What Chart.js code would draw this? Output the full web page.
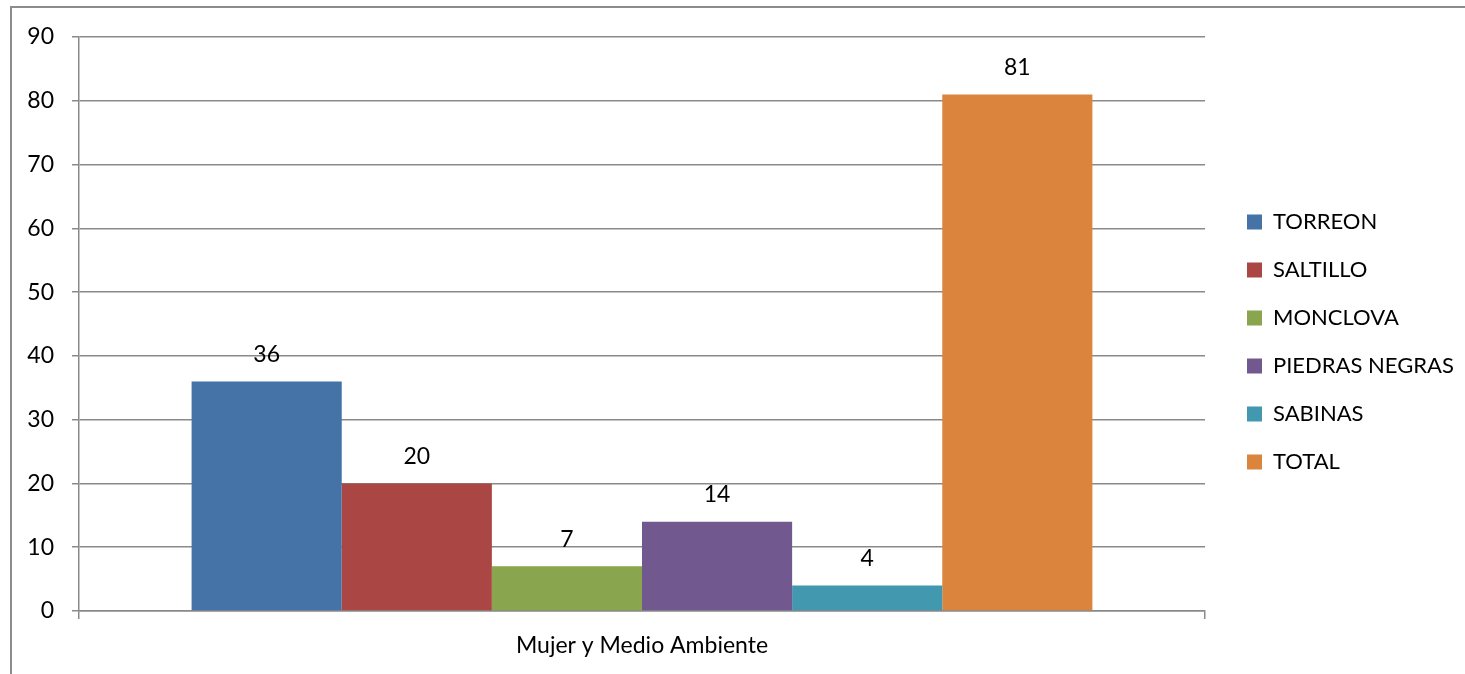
<!DOCTYPE html>
<html>
<head>
<meta charset="utf-8">
<script src="https://cdn.jsdelivr.net/npm/chart.js@4.4.1/dist/chart.umd.min.js"></script>
<style>
  html, body { margin: 0; padding: 0; background: #fff; }
  #wrap { position: relative; width: 1465px; height: 674px; overflow: hidden; }
  #frame { position: absolute; left: 10px; top: 6px; width: 1500px; height: 700px;
           border-left: 2px solid #8c8c8c; border-top: 2px solid #8c8c8c; }
  canvas { position: absolute; left: 0; top: 0; }
</style>
</head>
<body>
<div id="wrap">
  <div id="frame"></div>
  <canvas id="chart" width="1465" height="674"></canvas>
</div>
<script>
const categories = ['Mujer y Medio Ambiente'];
const seriesNames = ['TORREON', 'SALTILLO', 'MONCLOVA', 'PIEDRAS NEGRAS', 'SABINAS', 'TOTAL'];
const seriesValues = [36, 20, 7, 14, 4, 81];
const seriesColors = ['#4572A7', '#AA4643', '#89A54E', '#71588F', '#4198AF', '#DB843D'];
const yTicks = [0, 10, 20, 30, 40, 50, 60, 70, 80, 90];

const FONT = 'Lato, "Open Sans", sans-serif';
const GRID = '#8a8a8a';

// numbers above each bar
const valueLabels = {
    id: 'valueLabels',
    afterDatasetsDraw(chart) {
        const ctx = chart.ctx;
        ctx.save();
        ctx.font = '23px ' + FONT;
        ctx.fillStyle = '#000';
        ctx.textAlign = 'center';
        ctx.textBaseline = 'middle';
        chart.data.datasets.forEach((ds, i) => {
            chart.getDatasetMeta(i).data.forEach((bar, j) => {
                ctx.fillText(String(ds.data[j]), bar.x, bar.y - 27);
            });
        });
        ctx.restore();
    }
};

// empty axes used only to leave room around the plot
const blankAxis = (axis, position, size) => ({
    type: 'linear',
    axis,
    position,
    display: true,
    grid: { display: false },
    border: { display: false },
    ticks: { display: false },
    afterFit: (scale) => {
        if (axis === 'x') scale.height = size;
        else scale.width = size;
    },
});

new Chart(document.getElementById('chart').getContext('2d'), {
    type: 'bar',
    data: {
        labels: categories,
        datasets: seriesNames.map((name, i) => ({
            label: name,
            data: [seriesValues[i]],
            backgroundColor: seriesColors[i],
            borderWidth: 0,
            categoryPercentage: 0.8,
            barPercentage: 1.0,
        })),
    },
    options: {
        responsive: false,
        animation: false,
        layout: { padding: { left: 27, top: 23, right: 10, bottom: 13 } },
        plugins: {
            tooltip: { enabled: false },
            legend: {
                position: 'right',
                maxWidth: 234,
                labels: {
                    boxWidth: 15,
                    boxHeight: 15,
                    padding: 26,
                    color: '#000',
                    font: { family: FONT, size: 22 },
                },
            },
        },
        scales: {
            x: {
                afterFit: (scale) => { scale.height = 50; },
                grid: { drawOnChartArea: false, drawTicks: true, tickLength: 8, color: GRID, lineWidth: 1.5 },
                border: { color: GRID, width: 1.5 },
                ticks: { color: '#000', padding: 13, font: { family: FONT, size: 23 } },
            },
            y: {
                min: 0,
                max: 90,
                afterFit: (scale) => { scale.width = 52; },
                afterBuildTicks: (scale) => { scale.ticks = yTicks.map((v) => ({ value: v })); },
                grid: { color: GRID, lineWidth: 1.5, tickLength: 7 },
                border: { color: GRID, width: 1.5 },
                ticks: { color: '#000', padding: 18, font: { family: FONT, size: 23 } },
            },
            topSpace: blankAxis('x', 'top', 14),
            rightSpace: blankAxis('y', 'right', 16),
        },
    },
    plugins: [valueLabels],
});
</script>
</body>
</html>
